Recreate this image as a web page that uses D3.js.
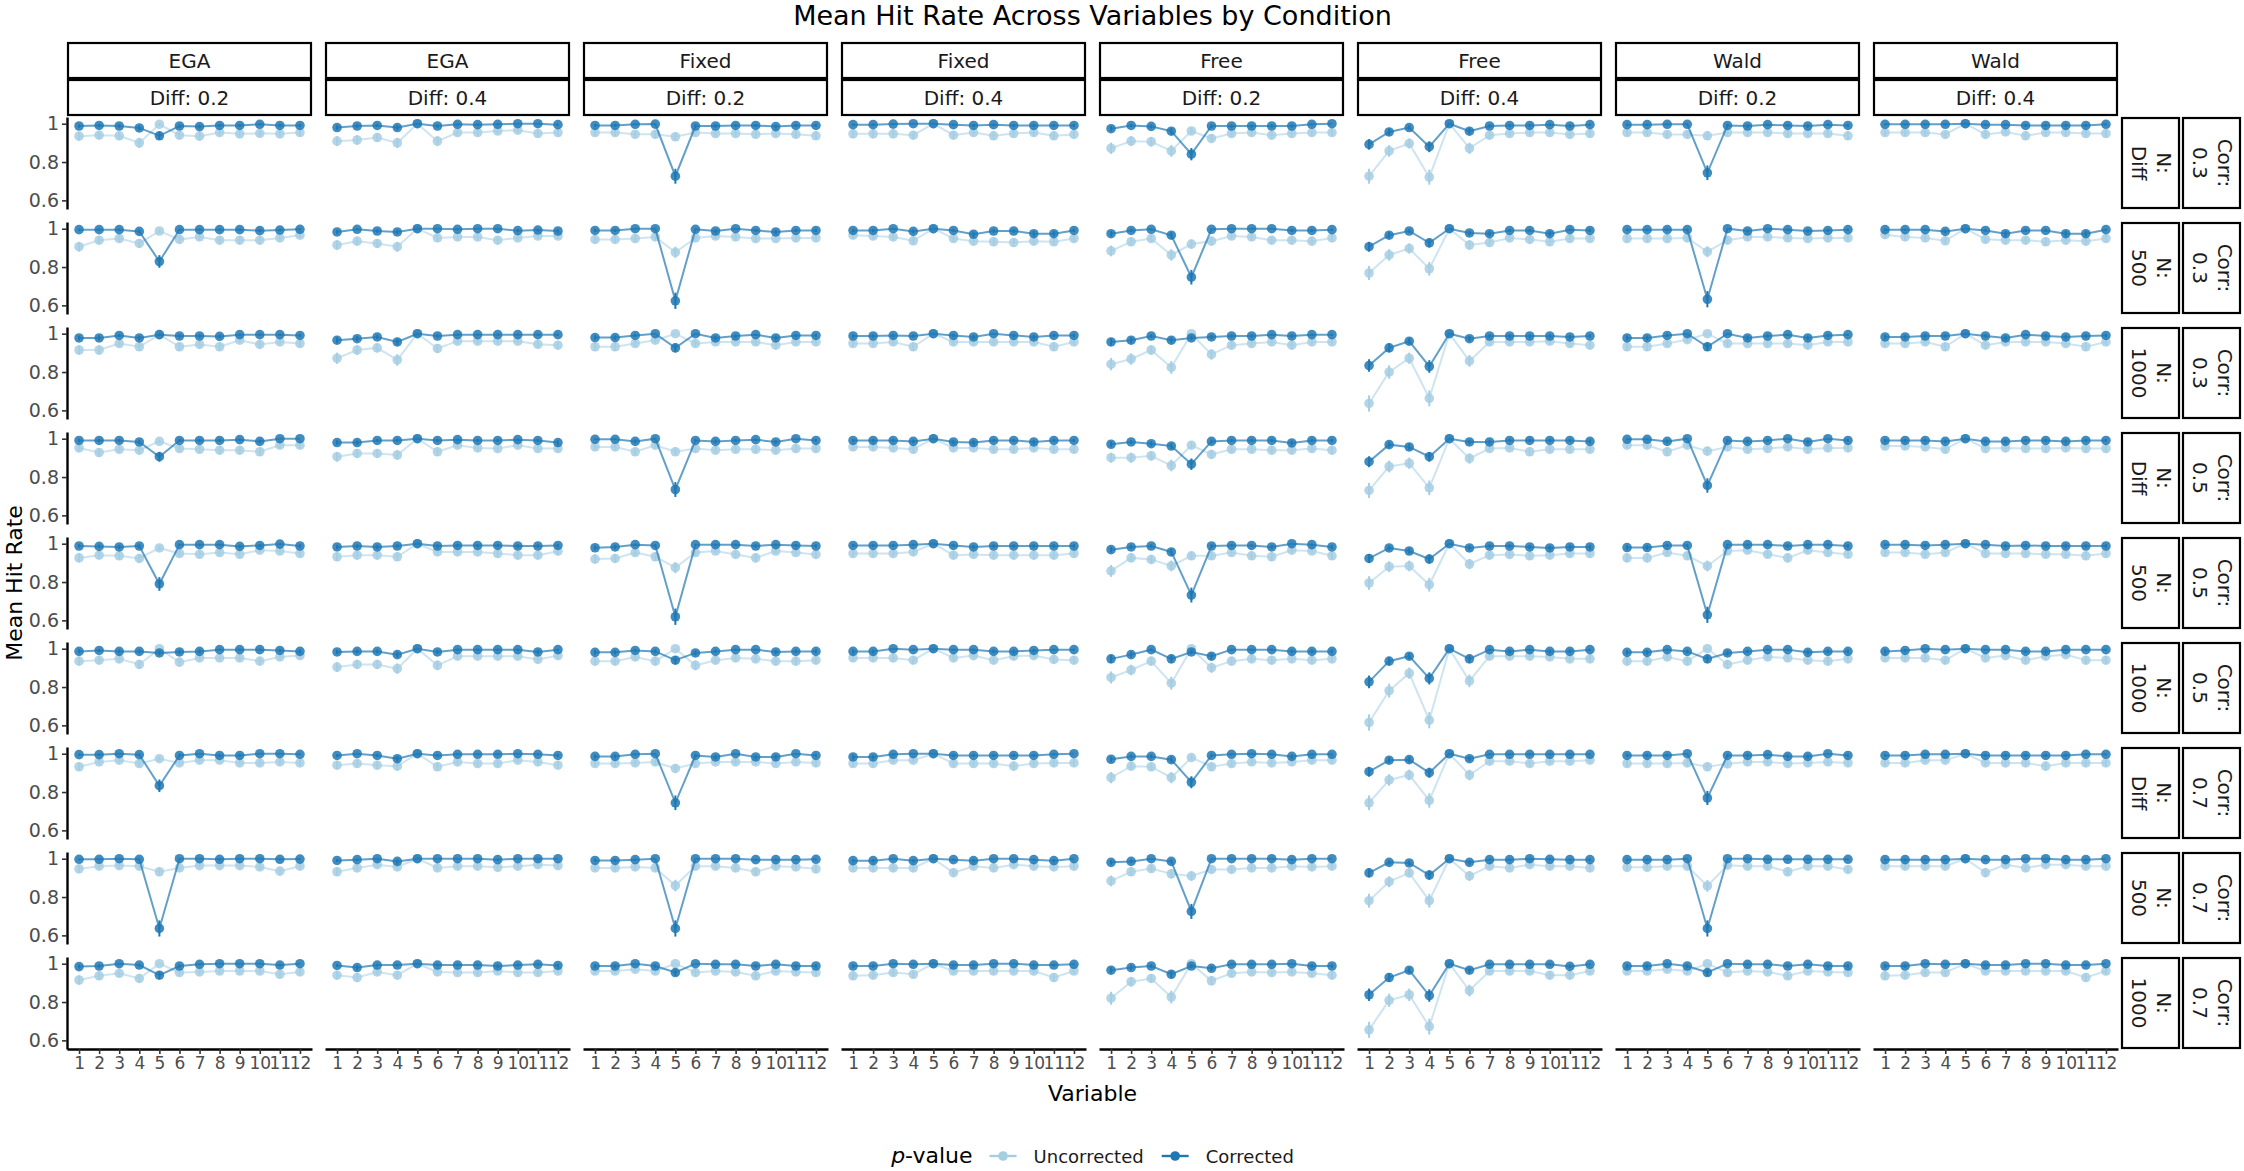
<!DOCTYPE html>
<html>
<head>
<meta charset="utf-8">
<script src="https://cdn.jsdelivr.net/npm/d3@7"></script>
<style>
  body { margin: 0; background: #ffffff; }
  svg text { font-family: "DejaVu Sans", sans-serif; }
</style>
</head>
<body>
<div id="chart"></div>
<script>
// facets and ticks
const variables = [1, 2, 3, 4, 5, 6, 7, 8, 9, 10, 11, 12];
const methods = ["EGA", "EGA", "Fixed", "Fixed", "Free", "Free", "Wald", "Wald"];
const diffLabels = ["Diff: 0.2", "Diff: 0.4", "Diff: 0.2", "Diff: 0.4", "Diff: 0.2", "Diff: 0.4", "Diff: 0.2", "Diff: 0.4"];
const rowN = ["Diff", "500", "1000", "Diff", "500", "1000", "Diff", "500", "1000"];
const rowCorr = ["0.3", "0.3", "0.3", "0.5", "0.5", "0.5", "0.7", "0.7", "0.7"];
const yTicks = [0.6, 0.8, 1];
const seriesNames = ["Uncorrected", "Corrected"];

// mean hit rate, one row per N/Corr strip, 12 variables each
const egaD2Unc = [
  [0.935, 0.940, 0.937, 0.900, 0.997, 0.940, 0.935, 0.954, 0.947, 0.950, 0.947, 0.954],
  [0.906, 0.940, 0.949, 0.923, 0.988, 0.944, 0.957, 0.940, 0.940, 0.940, 0.952, 0.966],
  [0.915, 0.915, 0.949, 0.932, 0.995, 0.932, 0.944, 0.932, 0.966, 0.944, 0.957, 0.949],
  [0.952, 0.928, 0.945, 0.940, 0.986, 0.949, 0.945, 0.940, 0.940, 0.932, 0.966, 0.966],
  [0.926, 0.940, 0.937, 0.923, 0.978, 0.949, 0.945, 0.954, 0.945, 0.966, 0.962, 0.949],
  [0.935, 0.940, 0.947, 0.918, 1.000, 0.930, 0.952, 0.952, 0.952, 0.935, 0.957, 0.964],
  [0.932, 0.957, 0.966, 0.949, 0.974, 0.952, 0.966, 0.966, 0.952, 0.952, 0.957, 0.952],
  [0.947, 0.961, 0.964, 0.961, 0.932, 0.952, 0.964, 0.964, 0.964, 0.957, 0.935, 0.961],
  [0.915, 0.937, 0.950, 0.923, 1.000, 0.954, 0.957, 0.962, 0.962, 0.962, 0.945, 0.957]
];
const egaD2Cor = [
  [0.988, 0.991, 0.988, 0.978, 0.937, 0.988, 0.985, 0.991, 0.991, 0.997, 0.991, 0.991],
  [0.995, 0.995, 0.995, 0.986, 0.829, 0.995, 0.995, 0.995, 0.995, 0.990, 0.993, 0.997],
  [0.978, 0.978, 0.991, 0.978, 0.995, 0.988, 0.988, 0.986, 0.995, 0.995, 0.995, 0.991],
  [0.991, 0.991, 0.991, 0.983, 0.906, 0.991, 0.991, 0.991, 0.995, 0.986, 1.000, 1.000],
  [0.988, 0.986, 0.983, 0.988, 0.790, 0.995, 0.995, 0.995, 0.986, 0.991, 0.998, 0.988],
  [0.986, 0.991, 0.986, 0.986, 0.978, 0.983, 0.986, 0.995, 0.995, 0.995, 0.991, 0.986],
  [0.995, 0.995, 1.000, 0.995, 0.833, 0.991, 1.000, 0.991, 0.991, 1.000, 1.000, 0.997],
  [0.997, 0.997, 1.000, 0.997, 0.636, 1.000, 1.000, 0.997, 1.000, 1.000, 0.997, 0.998],
  [0.985, 0.988, 1.000, 0.993, 0.940, 0.988, 0.997, 1.000, 1.000, 1.000, 0.993, 1.000]
];
const egaD4Unc = [
  [0.909, 0.915, 0.928, 0.900, 1.000, 0.909, 0.954, 0.954, 0.962, 0.966, 0.949, 0.954],
  [0.915, 0.935, 0.923, 0.906, 1.000, 0.952, 0.957, 0.957, 0.940, 0.952, 0.962, 0.962],
  [0.872, 0.915, 0.926, 0.863, 1.000, 0.923, 0.961, 0.961, 0.961, 0.961, 0.945, 0.940],
  [0.906, 0.923, 0.923, 0.915, 1.000, 0.932, 0.966, 0.952, 0.949, 0.966, 0.949, 0.949],
  [0.932, 0.940, 0.940, 0.932, 1.000, 0.957, 0.957, 0.957, 0.949, 0.940, 0.940, 0.961],
  [0.904, 0.918, 0.918, 0.896, 1.000, 0.913, 0.961, 0.961, 0.961, 0.961, 0.944, 0.964],
  [0.940, 0.949, 0.940, 0.935, 1.000, 0.932, 0.957, 0.949, 0.949, 0.966, 0.957, 0.940],
  [0.932, 0.952, 0.969, 0.957, 1.000, 0.952, 0.961, 0.961, 0.955, 0.961, 0.969, 0.964],
  [0.940, 0.928, 0.957, 0.940, 1.000, 0.957, 0.954, 0.954, 0.962, 0.954, 0.954, 0.962]
];
const egaD4Cor = [
  [0.980, 0.988, 0.991, 0.980, 1.000, 0.988, 0.997, 0.995, 0.997, 1.000, 1.000, 0.995],
  [0.983, 0.997, 0.988, 0.983, 1.000, 1.000, 0.997, 1.000, 1.000, 0.990, 0.993, 0.988],
  [0.966, 0.974, 0.983, 0.957, 1.000, 0.988, 0.995, 0.995, 0.995, 0.995, 0.995, 0.995],
  [0.980, 0.980, 0.991, 0.991, 1.000, 0.991, 0.995, 0.991, 0.991, 0.995, 0.991, 0.980],
  [0.983, 0.988, 0.983, 0.988, 1.000, 0.988, 0.991, 0.991, 0.991, 0.988, 0.988, 0.991],
  [0.983, 0.986, 0.986, 0.969, 1.000, 0.983, 0.995, 0.995, 0.995, 0.995, 0.983, 0.995],
  [0.991, 1.000, 0.991, 0.974, 1.000, 0.991, 0.997, 0.997, 0.997, 1.000, 0.997, 0.991],
  [0.991, 0.995, 1.000, 0.986, 1.000, 1.000, 1.000, 1.000, 0.995, 1.000, 1.000, 1.000],
  [0.991, 0.980, 0.993, 0.993, 1.000, 0.993, 0.993, 0.993, 0.988, 0.993, 0.997, 0.991]
];
const fixedD2Unc = [
  [0.954, 0.954, 0.945, 0.945, 0.932, 0.954, 0.949, 0.949, 0.945, 0.949, 0.945, 0.937],
  [0.944, 0.944, 0.949, 0.957, 0.877, 0.952, 0.962, 0.957, 0.949, 0.949, 0.952, 0.952],
  [0.932, 0.932, 0.949, 0.966, 1.000, 0.949, 0.957, 0.957, 0.957, 0.940, 0.957, 0.957],
  [0.957, 0.957, 0.932, 0.966, 0.932, 0.949, 0.940, 0.945, 0.945, 0.940, 0.949, 0.949],
  [0.920, 0.923, 0.954, 0.932, 0.875, 0.954, 0.962, 0.944, 0.926, 0.962, 0.954, 0.944],
  [0.935, 0.935, 0.957, 0.935, 1.000, 0.913, 0.940, 0.952, 0.947, 0.935, 0.935, 0.940],
  [0.949, 0.949, 0.952, 0.957, 0.923, 0.949, 0.957, 0.957, 0.957, 0.949, 0.957, 0.952],
  [0.952, 0.952, 0.957, 0.952, 0.860, 0.961, 0.961, 0.952, 0.932, 0.961, 0.957, 0.947],
  [0.962, 0.962, 0.971, 0.962, 1.000, 0.954, 0.962, 0.957, 0.937, 0.962, 0.957, 0.954]
];
const fixedD2Cor = [
  [0.991, 0.991, 0.997, 0.998, 0.726, 0.988, 0.988, 0.991, 0.991, 0.985, 0.991, 0.991],
  [0.991, 0.991, 1.000, 1.000, 0.624, 0.997, 0.988, 1.000, 0.991, 0.983, 0.991, 0.991],
  [0.980, 0.980, 0.991, 1.000, 0.926, 1.000, 0.978, 0.988, 0.995, 0.978, 0.991, 0.991],
  [0.997, 0.997, 0.986, 1.000, 0.735, 0.991, 0.986, 0.991, 0.995, 0.983, 1.000, 0.991],
  [0.979, 0.983, 0.995, 0.991, 0.619, 0.995, 0.995, 0.995, 0.988, 0.995, 0.991, 0.988],
  [0.981, 0.981, 0.991, 0.986, 0.940, 0.978, 0.986, 0.995, 0.995, 0.983, 0.986, 0.986],
  [0.986, 0.986, 0.997, 1.000, 0.744, 0.991, 0.983, 1.000, 0.983, 0.983, 1.000, 0.991],
  [0.991, 0.991, 0.995, 1.000, 0.636, 1.000, 1.000, 1.000, 0.995, 0.995, 0.995, 0.997],
  [0.988, 0.988, 1.000, 0.988, 0.954, 1.000, 0.997, 0.997, 0.988, 0.997, 0.988, 0.988]
];
const fixedD4Unc = [
  [0.947, 0.947, 0.947, 0.940, 1.000, 0.940, 0.954, 0.937, 0.949, 0.954, 0.937, 0.944],
  [0.966, 0.962, 0.957, 0.937, 1.000, 0.949, 0.935, 0.932, 0.928, 0.935, 0.932, 0.949],
  [0.949, 0.949, 0.957, 0.932, 1.000, 0.957, 0.957, 0.957, 0.957, 0.957, 0.932, 0.957],
  [0.957, 0.957, 0.952, 0.945, 1.000, 0.952, 0.952, 0.945, 0.945, 0.952, 0.945, 0.945],
  [0.949, 0.949, 0.949, 0.957, 1.000, 0.940, 0.944, 0.940, 0.940, 0.940, 0.940, 0.949],
  [0.952, 0.952, 0.952, 0.940, 1.000, 0.952, 0.964, 0.940, 0.961, 0.964, 0.944, 0.940],
  [0.949, 0.949, 0.966, 0.966, 1.000, 0.949, 0.949, 0.949, 0.935, 0.949, 0.952, 0.952],
  [0.952, 0.952, 0.952, 0.952, 1.000, 0.927, 0.961, 0.952, 0.969, 0.961, 0.957, 0.961],
  [0.937, 0.940, 0.954, 0.945, 1.000, 0.962, 0.962, 0.962, 0.962, 0.962, 0.928, 0.962]
];
const fixedD4Cor = [
  [0.995, 0.995, 0.998, 1.000, 1.000, 0.995, 0.991, 0.995, 0.991, 0.991, 0.991, 0.991],
  [0.991, 0.991, 1.000, 0.986, 1.000, 0.991, 0.971, 0.988, 0.988, 0.974, 0.974, 0.991],
  [0.988, 0.988, 0.991, 0.988, 1.000, 0.991, 0.983, 1.000, 0.991, 0.983, 0.991, 0.991],
  [0.991, 0.991, 0.991, 0.986, 1.000, 0.983, 0.980, 0.991, 0.991, 0.983, 0.991, 0.991],
  [0.991, 0.991, 0.991, 0.995, 1.000, 0.991, 0.983, 0.988, 0.988, 0.988, 0.988, 0.988],
  [0.986, 0.986, 1.000, 0.995, 1.000, 0.995, 0.995, 0.986, 0.986, 0.991, 0.995, 0.995],
  [0.983, 0.983, 0.997, 1.000, 1.000, 0.991, 0.991, 0.991, 0.991, 0.991, 0.997, 1.000],
  [0.990, 0.990, 1.000, 0.990, 1.000, 0.995, 0.990, 1.000, 1.000, 0.995, 0.990, 1.000],
  [0.988, 0.988, 1.000, 0.997, 1.000, 0.993, 0.993, 1.000, 1.000, 0.993, 0.993, 0.997]
];
const freeD2Unc = [
  [0.872, 0.909, 0.906, 0.858, 0.962, 0.923, 0.949, 0.954, 0.940, 0.949, 0.954, 0.954],
  [0.884, 0.932, 0.949, 0.863, 0.920, 0.935, 0.962, 0.957, 0.940, 0.940, 0.935, 0.952],
  [0.841, 0.868, 0.915, 0.824, 1.000, 0.892, 0.940, 0.949, 0.957, 0.940, 0.957, 0.957],
  [0.901, 0.901, 0.911, 0.860, 0.966, 0.918, 0.945, 0.945, 0.940, 0.940, 0.949, 0.940],
  [0.858, 0.926, 0.918, 0.884, 0.937, 0.937, 0.954, 0.937, 0.932, 0.966, 0.962, 0.937],
  [0.850, 0.889, 0.935, 0.820, 1.000, 0.901, 0.935, 0.947, 0.940, 0.947, 0.940, 0.947],
  [0.875, 0.935, 0.932, 0.875, 0.980, 0.932, 0.949, 0.957, 0.952, 0.957, 0.966, 0.966],
  [0.884, 0.932, 0.949, 0.921, 0.910, 0.944, 0.944, 0.952, 0.952, 0.961, 0.957, 0.961],
  [0.820, 0.906, 0.923, 0.826, 1.000, 0.911, 0.950, 0.957, 0.954, 0.957, 0.950, 0.940]
];
const freeD2Cor = [
  [0.974, 0.991, 0.986, 0.961, 0.841, 0.988, 0.988, 0.988, 0.988, 0.988, 0.997, 1.000],
  [0.974, 0.991, 0.997, 0.966, 0.747, 0.997, 1.000, 1.000, 1.000, 0.991, 0.991, 0.995],
  [0.957, 0.966, 0.988, 0.966, 0.978, 0.983, 0.988, 0.988, 0.995, 0.988, 0.995, 0.995],
  [0.971, 0.983, 0.974, 0.962, 0.867, 0.986, 0.991, 0.991, 0.991, 0.978, 0.991, 0.991],
  [0.969, 0.983, 0.988, 0.957, 0.732, 0.988, 0.991, 0.991, 0.983, 1.000, 0.995, 0.983],
  [0.947, 0.969, 0.995, 0.947, 0.983, 0.961, 0.995, 0.995, 0.995, 0.986, 0.986, 0.986],
  [0.971, 0.986, 0.986, 0.969, 0.851, 0.991, 0.997, 1.000, 0.997, 0.986, 0.997, 0.997],
  [0.981, 0.986, 1.000, 0.986, 0.725, 1.000, 1.000, 1.000, 1.000, 0.995, 1.000, 1.000],
  [0.966, 0.980, 0.988, 0.945, 0.988, 0.976, 0.997, 0.997, 0.997, 1.000, 0.988, 0.988]
];
const freeD4Unc = [
  [0.726, 0.858, 0.897, 0.721, 1.000, 0.872, 0.940, 0.949, 0.954, 0.954, 0.944, 0.949],
  [0.769, 0.863, 0.897, 0.791, 1.000, 0.915, 0.928, 0.952, 0.944, 0.932, 0.949, 0.949],
  [0.636, 0.800, 0.872, 0.663, 1.000, 0.858, 0.957, 0.957, 0.957, 0.961, 0.949, 0.940],
  [0.730, 0.855, 0.872, 0.744, 1.000, 0.897, 0.949, 0.952, 0.932, 0.945, 0.945, 0.945],
  [0.795, 0.880, 0.884, 0.786, 1.000, 0.894, 0.940, 0.944, 0.937, 0.940, 0.949, 0.949],
  [0.615, 0.781, 0.872, 0.627, 1.000, 0.832, 0.961, 0.961, 0.961, 0.957, 0.947, 0.947],
  [0.744, 0.863, 0.889, 0.756, 1.000, 0.889, 0.961, 0.961, 0.949, 0.961, 0.961, 0.966],
  [0.781, 0.880, 0.926, 0.781, 1.000, 0.910, 0.961, 0.952, 0.969, 0.961, 0.961, 0.952],
  [0.655, 0.809, 0.838, 0.672, 1.000, 0.860, 0.962, 0.962, 0.962, 0.940, 0.940, 0.962]
];
const freeD4Cor = [
  [0.892, 0.957, 0.980, 0.880, 1.000, 0.961, 0.988, 0.991, 0.991, 0.995, 0.988, 0.995],
  [0.906, 0.966, 0.988, 0.926, 1.000, 0.978, 0.974, 0.991, 0.991, 0.974, 0.995, 0.991],
  [0.834, 0.926, 0.961, 0.829, 1.000, 0.974, 0.988, 0.988, 0.988, 0.988, 0.983, 0.988],
  [0.880, 0.969, 0.957, 0.906, 1.000, 0.983, 0.983, 0.991, 0.991, 0.991, 0.991, 0.986],
  [0.923, 0.978, 0.962, 0.920, 1.000, 0.978, 0.988, 0.988, 0.983, 0.978, 0.983, 0.983],
  [0.827, 0.935, 0.961, 0.845, 1.000, 0.947, 0.995, 0.986, 0.995, 0.986, 0.986, 0.995],
  [0.906, 0.966, 0.969, 0.901, 1.000, 0.974, 0.997, 0.997, 0.997, 0.997, 0.997, 0.997],
  [0.926, 0.981, 0.978, 0.915, 1.000, 0.981, 0.995, 0.995, 1.000, 0.997, 0.995, 0.995],
  [0.838, 0.928, 0.966, 0.834, 1.000, 0.966, 0.997, 0.997, 0.997, 0.997, 0.986, 0.997]
];
const waldD2Unc = [
  [0.954, 0.954, 0.944, 0.944, 0.937, 0.954, 0.954, 0.954, 0.949, 0.949, 0.949, 0.937],
  [0.949, 0.949, 0.949, 0.952, 0.880, 0.940, 0.957, 0.957, 0.952, 0.949, 0.952, 0.952],
  [0.932, 0.932, 0.949, 0.969, 1.000, 0.949, 0.949, 0.949, 0.949, 0.940, 0.957, 0.957],
  [0.966, 0.966, 0.932, 0.966, 0.935, 0.957, 0.945, 0.949, 0.957, 0.945, 0.952, 0.952],
  [0.926, 0.926, 0.954, 0.937, 0.884, 0.962, 0.966, 0.945, 0.926, 0.966, 0.954, 0.945],
  [0.935, 0.935, 0.957, 0.935, 1.000, 0.918, 0.940, 0.957, 0.952, 0.940, 0.935, 0.947],
  [0.949, 0.949, 0.949, 0.952, 0.932, 0.947, 0.957, 0.957, 0.949, 0.952, 0.957, 0.952],
  [0.955, 0.955, 0.961, 0.961, 0.858, 0.966, 0.961, 0.961, 0.932, 0.961, 0.961, 0.944],
  [0.962, 0.962, 0.971, 0.962, 1.000, 0.954, 0.962, 0.957, 0.937, 0.962, 0.957, 0.954]
];
const waldD2Cor = [
  [0.995, 0.995, 0.997, 0.997, 0.744, 0.991, 0.988, 0.995, 0.991, 0.988, 0.995, 0.991],
  [0.995, 0.995, 0.995, 0.995, 0.632, 1.000, 0.988, 1.000, 0.995, 0.988, 0.991, 0.995],
  [0.978, 0.978, 0.991, 1.000, 0.932, 1.000, 0.978, 0.988, 0.995, 0.978, 0.991, 0.995],
  [0.997, 0.997, 0.986, 1.000, 0.756, 0.991, 0.986, 0.991, 1.000, 0.983, 1.000, 0.991],
  [0.980, 0.980, 0.991, 0.991, 0.629, 0.995, 0.995, 0.995, 0.988, 0.995, 0.995, 0.988],
  [0.981, 0.981, 0.995, 0.986, 0.947, 0.978, 0.986, 0.995, 0.995, 0.981, 0.986, 0.986],
  [0.991, 0.991, 0.991, 1.000, 0.769, 0.991, 0.991, 0.995, 0.986, 0.986, 1.000, 0.991],
  [0.995, 0.995, 0.995, 1.000, 0.636, 1.000, 1.000, 0.997, 0.997, 0.997, 0.997, 0.997],
  [0.988, 0.988, 1.000, 0.988, 0.954, 1.000, 0.997, 0.997, 0.988, 0.997, 0.988, 0.988]
];
const waldD4Unc = [
  [0.954, 0.954, 0.954, 0.944, 1.000, 0.944, 0.957, 0.937, 0.954, 0.954, 0.949, 0.949],
  [0.969, 0.957, 0.952, 0.937, 1.000, 0.945, 0.940, 0.940, 0.932, 0.940, 0.935, 0.949],
  [0.949, 0.949, 0.957, 0.932, 1.000, 0.940, 0.957, 0.957, 0.957, 0.949, 0.932, 0.957],
  [0.962, 0.962, 0.957, 0.945, 1.000, 0.949, 0.952, 0.949, 0.949, 0.952, 0.949, 0.949],
  [0.954, 0.954, 0.945, 0.954, 1.000, 0.949, 0.949, 0.949, 0.945, 0.945, 0.937, 0.949],
  [0.952, 0.952, 0.952, 0.940, 1.000, 0.952, 0.964, 0.940, 0.961, 0.969, 0.940, 0.940],
  [0.952, 0.952, 0.966, 0.966, 1.000, 0.952, 0.952, 0.952, 0.935, 0.952, 0.952, 0.952],
  [0.961, 0.961, 0.961, 0.961, 1.000, 0.927, 0.969, 0.952, 0.969, 0.969, 0.961, 0.961],
  [0.937, 0.940, 0.954, 0.954, 1.000, 0.962, 0.962, 0.962, 0.962, 0.962, 0.928, 0.962]
];
const waldD4Cor = [
  [0.997, 0.997, 0.997, 0.997, 1.000, 0.995, 0.995, 0.991, 0.991, 0.991, 0.991, 0.997],
  [0.995, 0.995, 0.995, 0.986, 1.000, 0.991, 0.974, 0.991, 0.991, 0.974, 0.974, 0.995],
  [0.983, 0.983, 0.988, 0.988, 1.000, 0.988, 0.978, 0.995, 0.988, 0.983, 0.988, 0.991],
  [0.991, 0.991, 0.991, 0.986, 1.000, 0.986, 0.986, 0.991, 0.991, 0.986, 0.991, 0.991],
  [0.995, 0.995, 0.991, 0.995, 1.000, 0.995, 0.988, 0.991, 0.988, 0.988, 0.988, 0.988],
  [0.986, 0.991, 1.000, 0.995, 1.000, 0.995, 0.995, 0.986, 0.986, 0.995, 0.995, 0.995],
  [0.991, 0.991, 0.997, 0.997, 1.000, 0.991, 0.991, 0.991, 0.991, 0.991, 0.997, 0.997],
  [0.995, 0.995, 0.995, 0.995, 1.000, 0.995, 0.995, 1.000, 1.000, 0.995, 0.995, 1.000],
  [0.988, 0.988, 1.000, 0.997, 1.000, 0.993, 0.993, 1.000, 1.000, 0.993, 0.993, 1.000]
];

// column order matches methods / diffLabels
const uncCols = [egaD2Unc, egaD4Unc, fixedD2Unc, fixedD4Unc, freeD2Unc, freeD4Unc, waldD2Unc, waldD4Unc];
const corCols = [egaD2Cor, egaD4Cor, fixedD2Cor, fixedD4Cor, freeD2Cor, freeD4Cor, waldD2Cor, waldD4Cor];

const WIDTH = 2244;
const HEIGHT = 1171;
const PANEL_LEFT = 67;
const PANEL_TOP = 117;
const PANEL_W = 245;
const PANEL_H = 92;
const GAP = 13;
const STEP_X = PANEL_W + GAP;
const STEP_Y = PANEL_H + GAP;
const COLORS = {Uncorrected: "#a6cee3", Corrected: "#1f78b4"};
const N_REPS = 500; // for the small binomial error bars

const svg = d3.select("#chart")
  .append("svg")
    .attr("width", WIDTH)
    .attr("height", HEIGHT);

const X_SCALE = d3.scalePoint()
  .domain(variables)
  .range([0, PANEL_W])
  .padding(0.6);

const Y_SCALE = d3.scaleLinear()
  .domain([0.555, 1.035])
  .range([PANEL_H, 0]);

const line = d3.line()
  .x((d) => X_SCALE(d.v))
  .y((d) => Y_SCALE(d.p));

const ciHalf = (p) => 1.96 * Math.sqrt(p * (1 - p) / N_REPS);

const plotRight = PANEL_LEFT + methods.length * STEP_X - GAP;
const plotBottom = PANEL_TOP + rowN.length * STEP_Y - GAP;
const plotCenterX = (PANEL_LEFT + plotRight) / 2;

// title
svg.append("text")
  .attr("x", plotCenterX)
  .attr("y", 25)
  .attr("text-anchor", "middle")
  .attr("font-size", 27)
  .attr("fill", "#000")
  .text("Mean Hit Rate Across Variables by Condition");

// top strips
methods.forEach((m, c) => {
  const x0 = PANEL_LEFT + c * STEP_X;
  const labels = [m, diffLabels[c]];
  labels.forEach((lab, k) => {
    const y0 = 42 + k * 37;
    svg.append("rect")
      .attr("x", x0 + 1)
      .attr("y", y0 + 1)
      .attr("width", PANEL_W - 2)
      .attr("height", 35)
      .attr("fill", "#fff")
      .attr("stroke", "#000")
      .attr("stroke-width", 2.2);
    svg.append("text")
      .attr("x", x0 + PANEL_W / 2)
      .attr("y", y0 + 26)
      .attr("text-anchor", "middle")
      .attr("font-size", 20)
      .attr("fill", "#1a1a1a")
      .text(lab);
  });
});

// right strips
rowN.forEach((n, r) => {
  const y0 = PANEL_TOP + r * STEP_Y;
  const strips = [["N:", n], ["Corr:", rowCorr[r]]];
  strips.forEach((lines, k) => {
    const x0 = plotRight + 3 + k * 61;
    svg.append("rect")
      .attr("x", x0 + 1)
      .attr("y", y0 + 1)
      .attr("width", 57)
      .attr("height", PANEL_H - 2)
      .attr("fill", "#fff")
      .attr("stroke", "#000")
      .attr("stroke-width", 2.2);
    const t = svg.append("text")
      .attr("transform", "translate(" + (x0 + 29.5) + "," + (y0 + PANEL_H / 2) + ") rotate(90)")
      .attr("text-anchor", "middle")
      .attr("font-size", 20)
      .attr("fill", "#1a1a1a");
    t.append("tspan").attr("x", 0).attr("y", -6).text(lines[0]);
    t.append("tspan").attr("x", 0).attr("y", 19).text(lines[1]);
  });
});

// panels
methods.forEach((m, c) => {
  rowN.forEach((n, r) => {
    const g = svg.append("g")
      .attr("transform", "translate(" + (PANEL_LEFT + c * STEP_X) + "," + (PANEL_TOP + r * STEP_Y) + ")");

    const series = [
      {name: "Uncorrected", vals: uncCols[c][r]},
      {name: "Corrected", vals: corCols[c][r]}
    ];

    series.forEach((s) => {
      const pts = s.vals.map((p, i) => ({v: variables[i], p: p}));
      const col = COLORS[s.name];

      g.append("path")
        .datum(pts)
        .attr("d", line)
        .attr("fill", "none")
        .attr("stroke", col)
        .attr("stroke-opacity", s.name === "Corrected" ? 0.7 : 0.55)
        .attr("stroke-width", 2);

      g.selectAll(null)
        .data(pts)
        .enter()
        .append("line")
          .attr("x1", (d) => X_SCALE(d.v))
          .attr("x2", (d) => X_SCALE(d.v))
          .attr("y1", (d) => Y_SCALE(Math.min(1, d.p + ciHalf(d.p))))
          .attr("y2", (d) => Y_SCALE(d.p - ciHalf(d.p)))
          .attr("stroke", col)
          .attr("stroke-width", 2);

      g.selectAll(null)
        .data(pts)
        .enter()
        .append("circle")
          .attr("cx", (d) => X_SCALE(d.v))
          .attr("cy", (d) => Y_SCALE(d.p))
          .attr("r", 4.8)
          .attr("fill", col)
          .attr("fill-opacity", 0.85);
    });

    // axes only on the outer panels
    if (c === 0) {
      const ay = g.append("g")
        .call(d3.axisLeft(Y_SCALE).tickValues(yTicks).tickFormat(d3.format("")).tickSize(5).tickSizeOuter(0));
      ay.select(".domain").attr("stroke", "#000").attr("stroke-width", 2.4);
      ay.selectAll(".tick line").attr("stroke", "#333").attr("stroke-width", 1.6);
      ay.selectAll(".tick text")
        .attr("font-size", 19)
        .attr("font-family", "DejaVu Sans")
        .attr("fill", "#4d4d4d")
        .attr("x", -8);
    }
    if (r === rowN.length - 1) {
      const ax = g.append("g")
        .attr("transform", "translate(0," + PANEL_H + ")")
        .call(d3.axisBottom(X_SCALE).tickSize(5).tickSizeOuter(0));
      ax.select(".domain").attr("stroke", "#000").attr("stroke-width", 2.4);
      ax.selectAll(".tick line").attr("stroke", "#333").attr("stroke-width", 1.6);
      ax.selectAll(".tick text")
        .attr("font-size", 17)
        .attr("font-family", "DejaVu Sans")
        .attr("fill", "#4d4d4d")
        .attr("y", 8);
    }
  });
});

// axis titles
svg.append("text")
  .attr("x", plotCenterX)
  .attr("y", plotBottom + 52)
  .attr("text-anchor", "middle")
  .attr("font-size", 22)
  .attr("fill", "#000")
  .text("Variable");

svg.append("text")
  .attr("transform", "translate(22," + ((PANEL_TOP + plotBottom) / 2) + ") rotate(-90)")
  .attr("text-anchor", "middle")
  .attr("font-size", 22)
  .attr("fill", "#000")
  .text("Mean Hit Rate");

// legend
const legend = svg.append("g");
const lt = legend.append("text")
  .attr("x", 0)
  .attr("y", 0)
  .attr("font-size", 22)
  .attr("fill", "#000");
lt.append("tspan").attr("font-style", "italic").text("p");
lt.append("tspan").text("-value");
let lx = lt.node().getComputedTextLength() + 17;
seriesNames.forEach((name) => {
  const col = COLORS[name];
  legend.append("line")
    .attr("x1", lx).attr("x2", lx + 27)
    .attr("y1", -7).attr("y2", -7)
    .attr("stroke", col)
    .attr("stroke-width", 2.4);
  legend.append("circle")
    .attr("cx", lx + 13.5).attr("cy", -7)
    .attr("r", 4.8)
    .attr("fill", col);
  const tx = legend.append("text")
    .attr("x", lx + 27 + 17)
    .attr("y", 0)
    .attr("font-size", 18)
    .attr("fill", "#1a1a1a")
    .text(name);
  lx += 27 + 17 + tx.node().getComputedTextLength() + 18;
});
const legendW = lx - 18;
legend.attr("transform", "translate(" + (plotCenterX - legendW / 2) + "," + (HEIGHT - 8) + ")");
</script>
</body>
</html>
